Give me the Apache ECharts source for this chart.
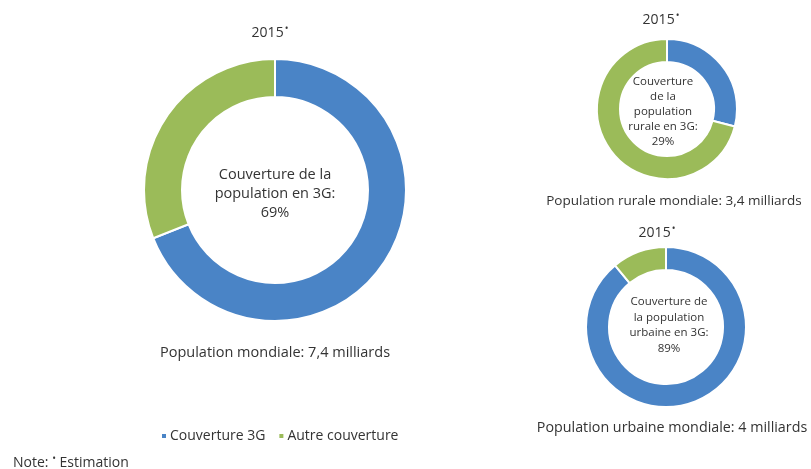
<!DOCTYPE html>
<html>
<head>
<meta charset="utf-8">
<script src="https://cdn.jsdelivr.net/npm/echarts@6/dist/echarts.min.js"></script>
<style>
html,body{margin:0;padding:0;background:#fff;}
#chart{width:811px;height:469px;}
</style>
</head>
<body>
<div id="chart"></div>
<script>
const categories = ['Couverture 3G', 'Autre couverture'];
const mondialValues = [69, 31];
const ruralValues = [29, 71];
const urbainValues = [89, 11];
const yearLabel = '2015';
const mondialTitle = 'Population mondiale: 7,4 milliards';
const ruralTitle = 'Population rurale mondiale: 3,4 milliards';
const urbainTitle = 'Population urbaine mondiale: 4 milliards';
const mondialCenter = ['Couverture de la', 'population en 3G:', '69%'];
const ruralCenter = ['Couverture', 'de la', 'population', 'rurale en 3G:', '29%'];
const urbainCenter = ['Couverture de', 'la population', 'urbaine en 3G:', '89%'];

const FONT = '"Open Sans", "Liberation Sans", sans-serif';
const TXT = '#333333';
const colors = ['#4a84c6', '#9bbb59'];

function pieSeries(name, values, center, radius) {
  return {
    name: name,
    type: 'pie',
    center: center,
    radius: radius,
    startAngle: 90,
    clockwise: true,
    silent: true,
    label: { show: false },
    labelLine: { show: false },
    itemStyle: { borderColor: '#fff', borderWidth: 2 },
    data: categories.map((c, i) => ({ name: c, value: values[i], itemStyle: { color: colors[i] } }))
  };
}

function text(x, y, str, size, lineHeight) {
  return {
    type: 'text', x: x, y: y,
    style: {
      text: str, fill: TXT, font: size + 'px ' + FONT,
      align: 'center', verticalAlign: 'middle',
      lineHeight: lineHeight
    }
  };
}

function yearText(x, y) {
  return {
    type: 'text', x: x, y: y,
    style: {
      text: yearLabel + '{s|•}',
      fill: TXT, font: '14px ' + FONT, align: 'center', verticalAlign: 'middle',
      rich: { s: { fontSize: 10, fill: TXT, fontFamily: FONT, verticalAlign: 'top', padding: [0, 0, 7, 1] } }
    }
  };
}

const chart = echarts.init(document.getElementById('chart'));
chart.setOption({
  animation: false,
  backgroundColor: '#fff',
  color: colors,
  legend: {
    data: categories,
    left: 155, top: 424,
    icon: 'rect', itemWidth: 6, itemHeight: 6, itemGap: 12,
    textStyle: { color: TXT, fontSize: 14, fontFamily: FONT, padding: [0, 0, 0, -2] },
    selectedMode: false
  },
  series: [
    pieSeries('mondial', mondialValues, [275, 190], [93, 131]),
    pieSeries('rural', ruralValues, [667, 109], [47, 70]),
    pieSeries('urbain', urbainValues, [666, 327], [57, 80])
  ],
  graphic: [
    yearText(270, 33),
    yearText(661, 20),
    yearText(657, 233),
    text(275, 353, mondialTitle, 14.5),
    text(674, 201, ruralTitle, 13.5),
    text(672, 428, urbainTitle, 14.3),
    text(275, 194, mondialCenter.join('\n'), 14.5, 19),
    text(663, 112, ruralCenter.join('\n'), 11.5, 15),
    text(669, 325, urbainCenter.join('\n'), 11.5, 15.5),
    {
      type: 'text', x: 13, y: 463,
      style: {
        text: 'Note: {s|•} Estimation', fill: TXT, font: '14px ' + FONT,
        align: 'left', verticalAlign: 'middle',
        rich: { s: { fontSize: 10, fill: TXT, fontFamily: FONT, verticalAlign: 'top', padding: [0, 0, 7, 0] } }
      }
    }
  ]
});
</script>
</body>
</html>
